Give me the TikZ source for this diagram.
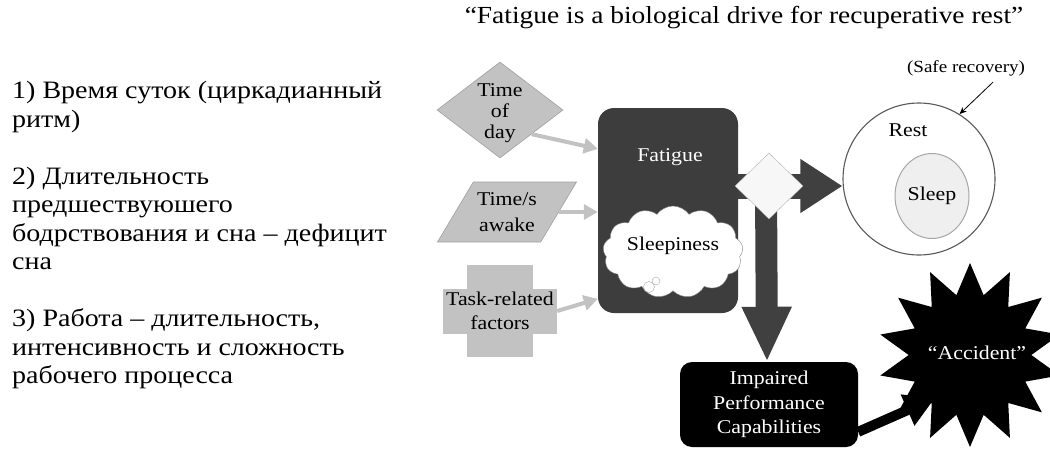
\documentclass[tikz,border=0pt]{standalone}
\usepackage{fontspec}
\setmainfont[FakeStretch=1.12]{Liberation Serif}
\usepackage{xcolor}
\usetikzlibrary{arrows.meta, positioning, calc}
\usetikzlibrary{shapes.geometric, shapes.symbols}

\definecolor{boxdark}{HTML}{3D3D3D}
\definecolor{inputgray}{HTML}{C2C2C2}
\definecolor{inputedge}{HTML}{A0A0A0}
\definecolor{arrowdark}{HTML}{404040}
\definecolor{sleepfill}{HTML}{EFEFEF}

\begin{document}
\begin{tikzpicture}[x=1pt,y=-1pt,
  lbl/.style={font=\fontsize{19.5}{21}\selectfont, align=center, inner sep=0pt},
  inbox/.style={fill=inputgray, draw=inputedge, line width=0.6pt},
  inarrow/.style={draw=inputgray, line width=4pt, -{Triangle[length=14pt,width=15pt]}},
  bigarrow/.style={draw=arrowdark, line width=#1}
]

\useasboundingbox (0,0) rectangle (1050,450);

% ------------------------
% Title and left-hand list
% ------------------------
\node[font=\fontsize{24.5}{28}\selectfont] (title) at (744,18)
  {“Fatigue is a biological drive for recuperative rest”};

\node[anchor=north west, inner sep=0pt, align=left,
      font=\fontsize{25}{28.5}\selectfont] (list) at (12,81)
  {1) Время суток (циркадианный\\
   ритм)\\[28.5pt]
   2) Длительность\\
   предшествуюшего\\
   бодрствования и сна -- дефицит\\
   сна\\[28.5pt]
   3) Работа -- длительность,\\
   интенсивность и сложность\\
   рабочего процесса};

% ------------------------
% Inputs
% ------------------------
\node[inbox, diamond, minimum width=126pt, minimum height=96pt, inner sep=0pt]
  (tod) at (500,110) {};
\node[lbl] at ($(tod)+(0,3)$) {Time\\of\\day};

\node[inbox, trapezium, trapezium left angle=62, trapezium right angle=118,
      trapezium stretches=true, minimum width=139pt, minimum height=60pt]
  (awake) at (507,212) {};
\node[lbl, font=\fontsize{19.5}{26}\selectfont] at (awake) {Time/s\\awake};

% cross made of two bars
\coordinate (taskc) at (500,311);
\fill[inputgray] ($(taskc)+(-33,-46)$) rectangle ($(taskc)+(33,46)$);
\node[fill=inputgray, minimum width=114pt, minimum height=45pt, inner sep=0pt]
  (task) at (taskc) {};
\node[lbl, font=\fontsize{19.5}{24}\selectfont] at (task) {Task-related\\factors};

% ------------------------
% Fatigue block
% ------------------------
\node[fill=boxdark, rounded corners=16pt, minimum width=140pt, minimum height=205pt]
  (fatigue) at (668,210.5) {};
\node[lbl, text=white] (fatiguetxt) at (670,157) {Fatigue};

\node[cloud, cloud puffs=13, cloud puff arc=110, aspect=1.6, fill=white, draw=gray,
      minimum width=140pt, minimum height=92pt, inner sep=0pt]
  (sleepy) at (673,252) {};
\node[lbl] at (673,246) {Sleepiness};
\draw[gray!70, fill=white] (649,287) circle (5.5pt);
\draw[gray!70, fill=white] (656,281) circle (4pt);

% inputs into fatigue
\draw[inarrow] (tod.south east) -- ($(fatigue.north west)!0.2!(fatigue.south west)$);
\draw[inarrow] (awake.east) -- (fatigue.west |- awake.east);
\draw[inarrow] (task.east) -- ($(fatigue.north west)!0.93!(fatigue.south west)$);

% ------------------------
% Rest / sleep
% ------------------------
\node[circle, draw=black!65, line width=1.1pt, fill=white, minimum size=152pt]
  (rest) at (919,179) {};
\node[lbl] (resttxt) at (908,130) {Rest};
\node[ellipse, draw=black!35, line width=1pt, fill=sleepfill,
      minimum width=74pt, minimum height=85pt, lbl]
  (sleep) at (932,196) {Sleep};

\node[font=\fontsize{17}{20}\selectfont, inner sep=0pt] (safe) at (966,68) {(Safe recovery)};
\draw[-{Stealth[length=7pt,width=6pt]}, line width=0.8pt]
  ($(safe.south east)+(-32,6)$) -- (rest.58);

% ------------------------
% Split and outcomes
% ------------------------
\node[star, star points=14, star point ratio=1.5, fill=black,
      minimum size=184pt, inner sep=0pt]
  (accident) at (970,355) {};
\node[lbl, text=white] at (977,353) {“Accident”};

\node[fill=black, rounded corners=12pt, minimum width=178pt, minimum height=85pt,
      inner sep=0pt, text=white, lbl, font=\fontsize{19.5}{24.5}\selectfont]
  (impaired) at (769,404.5) {Impaired\\Performance\\Capabilities};

\coordinate (splitc) at (769,186);
\draw[bigarrow=25pt, -{Triangle[length=42pt,width=51pt]}]
  (fatigue.east |- splitc) -- (rest.west |- splitc);
\draw[bigarrow=22pt, -{Triangle[length=55pt,width=46pt]}]
  ($(splitc)+(-3,0)$) -- ($(impaired.north)+(-2,0)$);
\node[diamond, fill=white!97!black, draw=black!30, minimum width=68pt,
      minimum height=66pt, inner sep=0pt]
  (split) at (splitc) {};

\draw[line width=10pt, -{Triangle[length=30pt,width=32pt]}]
  ($(impaired.south east)!0.18!(impaired.north east)$) -- ($(accident.center)+(-35,43)$);

\end{tikzpicture}
\end{document}
